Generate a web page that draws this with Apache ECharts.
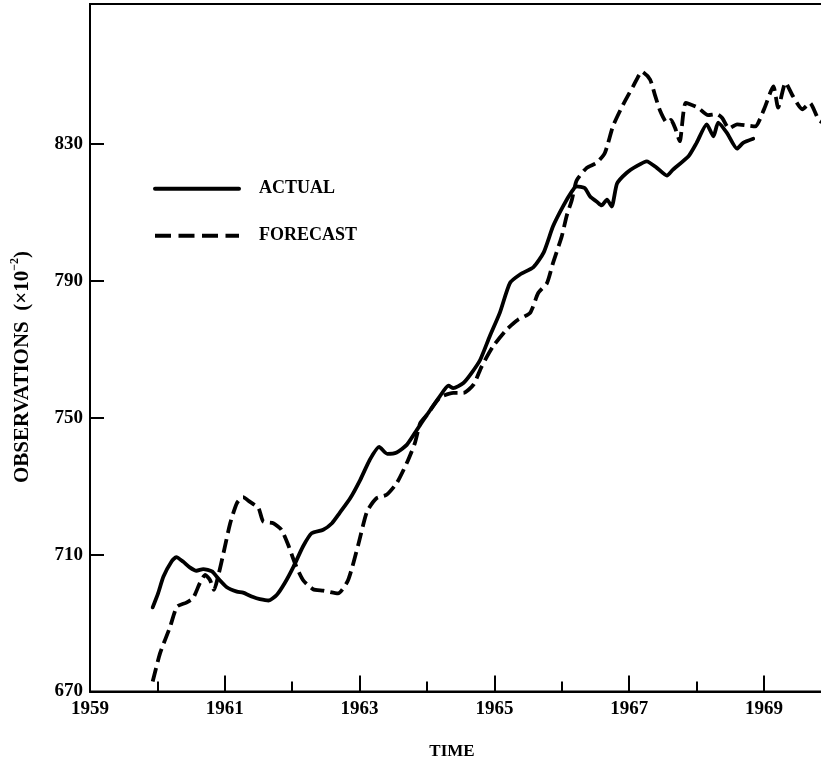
<!DOCTYPE html>
<html><head><meta charset="utf-8">
<script src="https://cdn.jsdelivr.net/npm/echarts@6/dist/echarts.min.js"></script>
<style>html,body{margin:0;padding:0;background:#fff}#c{width:821px;height:762px}</style>
</head><body><div id="c"></div>
<script>
const actualYears = [1959.93,1960.01,1960.09,1960.21,1960.28,1960.38,1960.48,1960.58,1960.68,1960.81,1960.90,1961.03,1961.18,1961.27,1961.42,1961.52,1961.65,1961.77,1961.89,1962.02,1962.16,1962.29,1962.46,1962.59,1962.70,1962.86,1963.01,1963.15,1963.29,1963.41,1963.55,1963.70,1963.85,1964.00,1964.19,1964.32,1964.39,1964.54,1964.66,1964.79,1964.93,1965.08,1965.23,1965.38,1965.58,1965.73,1965.87,1966.02,1966.15,1966.22,1966.34,1966.42,1966.52,1966.59,1966.67,1966.74,1966.82,1966.96,1967.11,1967.26,1967.41,1967.56,1967.65,1967.88,1968.00,1968.15,1968.25,1968.32,1968.45,1968.60,1968.69,1968.84];
const actualValues = [694.6,698.7,703.6,708.0,709.3,708.0,706.3,705.3,705.8,705.1,703.1,700.5,699.2,698.9,697.6,697.0,696.6,698.2,701.7,706.5,712.4,716.3,717.3,719.2,722.1,726.5,731.9,737.7,741.5,739.5,739.9,742.1,746.5,750.9,756.3,759.4,758.7,760.2,763.1,767.0,773.8,780.7,789.4,791.9,794.1,798.3,806.0,811.9,816.2,817.7,817.2,814.7,813.2,812.1,813.8,811.8,818.5,821.6,823.6,825.0,823.1,820.8,822.6,826.5,830.4,835.8,832.3,836.3,833.3,828.7,830.4,831.6];
const forecastYears = [1959.93,1960.04,1960.19,1960.29,1960.43,1960.53,1960.63,1960.71,1960.78,1960.84,1960.90,1960.98,1961.08,1961.18,1961.27,1961.37,1961.50,1961.57,1961.72,1961.84,1961.94,1962.04,1962.16,1962.31,1962.46,1962.68,1962.83,1962.98,1963.11,1963.25,1963.40,1963.55,1963.70,1963.82,1963.90,1964.00,1964.19,1964.39,1964.54,1964.69,1964.81,1964.98,1965.18,1965.35,1965.53,1965.65,1965.78,1965.87,1966.00,1966.07,1966.15,1966.22,1966.37,1966.52,1966.64,1966.76,1966.91,1967.06,1967.19,1967.31,1967.38,1967.46,1967.56,1967.62,1967.68,1967.75,1967.84,1968.02,1968.17,1968.30,1968.38,1968.48,1968.60,1968.74,1968.87,1969.00,1969.14,1969.21,1969.32,1969.43,1969.57,1969.68,1969.81,1969.90];
const forecastValues = [672.9,681.2,689.0,694.8,696.0,697.3,701.7,704.1,702.6,699.7,703.6,710.4,719.2,725.1,726.8,725.5,723.6,719.7,719.2,717.3,712.9,707.5,702.6,699.9,699.5,698.7,702.6,712.9,722.6,726.5,727.5,730.9,736.8,742.6,748.5,750.9,755.9,757.3,757.3,759.7,765.0,770.9,775.8,778.7,780.7,786.5,789.4,795.3,803.1,808.9,813.8,819.4,823.1,824.6,827.5,835.3,841.6,847.0,851.2,848.9,844.5,839.7,836.3,837.1,834.8,830.9,842.1,840.7,838.5,838.8,837.7,834.6,835.8,835.5,835.2,840.2,846.9,840.7,848.0,844.0,840.2,842.1,837.2,836.0];
const xMajorTicks = [1959,1961,1963,1965,1967,1969];
const xMinorTicks = [1960,1962,1964,1966,1968];
const yTickLabels = [670,710,750,790,830];
const yTicks = [710,750,790,830];
const seriesNames = ['ACTUAL','FORECAST'];

const serif = '"Liberation Serif", "Times New Roman", serif';
const black = '#000';
const chart = echarts.init(document.getElementById('c'), null, {renderer: 'canvas'});
const lblStyle = {fontFamily: serif, fontWeight: 'bold', fontSize: 19, color: black, formatter: v => String(v)};

chart.setOption({
  backgroundColor: '#fff',
  animation: false,
  color: [black, black],
  grid: {left: 90, top: 4, width: 741.4, height: 687.5, show: true, borderColor: black, borderWidth: 2,
         containLabel: false, outerBoundsMode: 'none'},
  legend: {
    left: 153, top: 179.7, orient: 'vertical', padding: 0,
    itemWidth: 84, itemHeight: 20, itemGap: 29,
    itemStyle: {color: 'transparent', opacity: 0, borderWidth: 0},
    lineStyle: {color: black, width: 4},
    textStyle: {fontFamily: serif, fontWeight: 'bold', fontSize: 18, color: black, padding: [0, 0, 0, 15]},
    data: [
      {name: seriesNames[0], lineStyle: {color: black, width: 4, type: 'solid'}},
      {name: seriesNames[1], lineStyle: {color: black, width: 4, type: [16, 7.5]}}
    ]
  },
  xAxis: [
    {type: 'value', min: 1959, max: 1970, position: 'bottom',
     axisLine: {show: true, onZero: false, lineStyle: {color: black, width: 2}},
     axisTick: {show: true, inside: true, length: 16, customValues: xMajorTicks, lineStyle: {color: black, width: 2}},
     axisLabel: Object.assign({customValues: xMajorTicks, margin: 8}, lblStyle),
     splitLine: {show: false}},
    {type: 'value', min: 1959, max: 1970, position: 'bottom',
     axisLine: {show: false, onZero: false},
     axisTick: {show: true, inside: true, length: 10, customValues: xMinorTicks, lineStyle: {color: black, width: 2}},
     axisLabel: {show: false},
     splitLine: {show: false}}
  ],
  yAxis: {type: 'value', min: 670, max: 871,
    axisLine: {show: true, onZero: false, lineStyle: {color: black, width: 2}},
    axisTick: {show: true, inside: true, length: 14, customValues: yTicks, lineStyle: {color: black, width: 2}},
    axisLabel: Object.assign({customValues: yTickLabels, margin: 7}, lblStyle),
    splitLine: {show: false}},
  series: [
    {name: seriesNames[0], type: 'line', xAxisIndex: 0, symbol: 'none', smooth: 0.2,
     data: actualYears.map((x, i) => [x, actualValues[i]]),
     itemStyle: {color: black},
     lineStyle: {color: black, width: 3.8, join: 'round', cap: 'round'}},
    {name: seriesNames[1], type: 'line', xAxisIndex: 0, symbol: 'none', smooth: 0.2,
     data: forecastYears.map((x, i) => [x, forecastValues[i]]),
     itemStyle: {color: black},
     lineStyle: {color: black, width: 3.8, type: [14, 6], cap: 'butt', join: 'round'}}
  ],
  graphic: [
    {type: 'text', x: 452, y: 752,
     style: {text: 'TIME', fontFamily: serif, fontWeight: 'bold', fontSize: 17, fill: black, align: 'center', verticalAlign: 'middle'}},
    {type: 'text', x: 21, y: 367, rotation: Math.PI / 2,
     style: {text: '{m|OBSERVATIONS  (×10}{s|−2}{m|)}', align: 'center', verticalAlign: 'middle',
       rich: {
         m: {fontFamily: serif, fontWeight: 'bold', fontSize: 21, fill: black, lineHeight: 24, verticalAlign: 'bottom'},
         s: {fontFamily: serif, fontWeight: 'bold', fontSize: 12, fill: black, lineHeight: 24, verticalAlign: 'top'}
       }}}
  ]
});
</script></body></html>
